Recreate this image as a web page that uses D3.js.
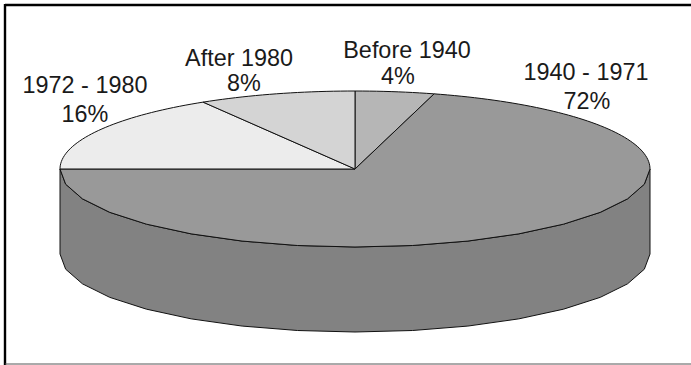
<!DOCTYPE html>
<html>
<head>
<meta charset="utf-8">
<script src="https://cdn.jsdelivr.net/npm/d3@7"></script>
<style>
  html, body { margin: 0; padding: 0; background: #fff; }
  svg { display: block; }
  text { font-family: "Liberation Sans", Arial, sans-serif; font-size: 23.4px; fill: #1a1a1a; }
</style>
</head>
<body>
<svg id="chart" width="691" height="365"></svg>
<script>
// Age of housing stock, share by construction period
const periods = ["Before 1940", "1940 - 1971", "1972 - 1980", "After 1980"];
const shares = [4, 72, 16, 8];
const topColors = ["#b6b6b6", "#999999", "#ececec", "#d4d4d4"];
const sideColor = "#828282";

// Label lines: [text, centre x, baseline y]
const labelLines = [
  [[periods[0], 407, 58], [shares[0] + "%", 398, 84]],
  [[periods[1], 586, 80], [shares[1] + "%", 587, 109]],
  [[periods[2], 85, 93], [shares[2] + "%", 85, 122]],
  [[periods[3], 239, 66], [shares[3] + "%", 244, 91]]
];

const svg = d3.select("#chart");

// Disc geometry
const cx = 355, cy = 169, rx = 295, ry = 78, depth = 85;
const x = d3.scaleLinear().domain([-1, 1]).range([cx - rx, cx + rx]);
const y = d3.scaleLinear().domain([-1, 1]).range([cy - ry, cy + ry]);

const TAU = 2 * Math.PI;
const deg = Math.PI / 180;
// Angular distortion of the tilted disc: slices facing the viewer's back edge widen slightly
const tilt = a => a + 3.53 * deg * Math.sin(a) + 0.59 * deg * Math.sin(2 * a);

const pie = d3.pie().sort(null).startAngle(0).endAngle(TAU);
const slices = pie(shares).map((d, i) => ({
  start: tilt(d.startAngle),
  end: tilt(d.endAngle),
  color: topColors[i]
}));

const px = t => x(Math.sin(t));
const py = (t, drop = 0) => y(-Math.cos(t)) + drop;
const line = d3.line().x(d => d[0]).y(d => d[1]);

// The rim is faceted along the front half and smooth along the back half
const coarse = TAU / 32, fine = TAU / 256;
function rimAngles(a0, a1) {
  const out = [a0];
  let t = a0;
  while (t < a1 - 1e-6) {
    const front = t >= Math.PI / 2 - 1e-6 && t < 3 * Math.PI / 2 - 1e-6;
    const step = front ? coarse : fine;
    let next = (Math.floor(t / step + 1e-6) + 1) * step;
    if (!front && t < Math.PI / 2 && next > Math.PI / 2) next = Math.PI / 2;
    if (!front && t < TAU && t >= 3 * Math.PI / 2 && next > TAU) next = TAU;
    t = Math.min(next, a1);
    out.push(t);
  }
  return out;
}

// Side wall
const front = rimAngles(Math.PI / 2, 3 * Math.PI / 2);
const wall = front.map(t => [px(t), py(t)])
  .concat(front.slice().reverse().map(t => [px(t), py(t, depth)]));
svg.append("path")
  .attr("d", line(wall) + "Z")
  .attr("fill", sideColor)
  .attr("stroke", "#111")
  .attr("stroke-width", 1)
  .attr("stroke-linejoin", "round");

// Top face
svg.selectAll("path.slice")
  .data(slices)
  .join("path")
  .attr("class", "slice")
  .attr("d", s => {
    const rim = rimAngles(s.start, s.end).map(t => [px(t), py(t)]);
    return line([[cx, cy], ...rim]) + "Z";
  })
  .attr("fill", s => s.color)
  .attr("stroke", "#111")
  .attr("stroke-width", 1)
  .attr("stroke-linejoin", "round");

// Labels
svg.selectAll("g.label")
  .data(labelLines)
  .join("g")
  .attr("class", "label")
  .selectAll("text")
  .data(d => d)
  .join("text")
  .attr("x", d => d[1])
  .attr("y", d => d[2])
  .attr("text-anchor", "middle")
  .text(d => d[0]);

// Chart frame: heavy on the top and left, light along the bottom
svg.append("line").attr("x1", 5).attr("x2", 691).attr("y1", 5).attr("y2", 5)
  .attr("stroke", "#000").attr("stroke-width", 2.4);
svg.append("line").attr("x1", 5).attr("x2", 5).attr("y1", 4).attr("y2", 365)
  .attr("stroke", "#000").attr("stroke-width", 2.4);
svg.append("line").attr("x1", 5).attr("x2", 691).attr("y1", 364).attr("y2", 364)
  .attr("stroke", "#555").attr("stroke-width", 1);
</script>
</body>
</html>
